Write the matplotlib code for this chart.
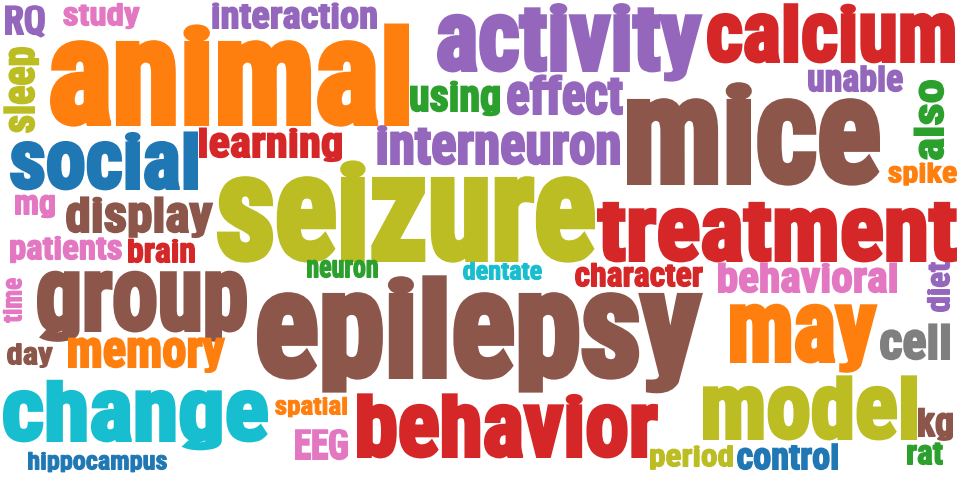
import matplotlib
matplotlib.use("Agg")
import matplotlib.pyplot as plt
import numpy as np
from matplotlib import font_manager
from matplotlib.font_manager import FontProperties
from matplotlib.patheffects import AbstractPathEffect
from matplotlib.path import Path
from matplotlib.textpath import TextPath
from matplotlib.transforms import IdentityTransform

BLUE, ORANGE, GREEN, RED, PURPLE = "#1f77b4", "#ff7f0e", "#2ca02c", "#d62728", "#9467bd"
BROWN, PINK, GRAY, OLIVE, CYAN = "#8c564b", "#e377c2", "#7f7f7f", "#bcbd22", "#17becf"

WORDS = ["RQ", "study", "interaction", "animal", "activity", "calcium", "unable",
         "also", "spike", "mice", "using", "effect", "interneuron", "learning",
         "sleep", "social", "seizure", "treatment", "patients", "brain", "mg",
         "display", "neuron", "dentate", "character", "behavioral", "diet", "time",
         "group", "epilepsy", "may", "cell", "day", "memory", "change", "spatial",
         "EEG", "hippocampus", "behavior", "model", "kg", "period", "control", "rat"]
# x-height of each word in px (the cloud's size scale)
SIZES = [25, 19, 22, 84, 57, 49, 22,
         25, 17, 85, 26, 33, 33, 25,
         26, 48, 84, 53, 20, 20, 20,
         30, 18, 15, 20, 25, 19, 16,
         60, 85, 58, 30, 18, 30, 51, 15,
         26, 15, 53, 53, 24, 18, 22, 20]
COLORS = [PURPLE, PINK, PURPLE, ORANGE, PURPLE, RED, PURPLE,
          GREEN, ORANGE, BROWN, GREEN, PURPLE, PURPLE, RED,
          OLIVE, BLUE, OLIVE, RED, PINK, RED, PINK,
          BROWN, GREEN, CYAN, RED, PINK, PURPLE, PINK,
          BROWN, BROWN, ORANGE, GRAY, BROWN, ORANGE, CYAN, ORANGE,
          PINK, BLUE, RED, OLIVE, BROWN, OLIVE, BLUE, GREEN]

# cloud layout: each word runs from RUN_START to RUN_END along its reading
# direction, with its baseline at BASELINE (pixel-like coords, y down)
RUN_START = [5, 63, 212, 50, 437, 707, 808,
             160, 888, 627, 410, 507, 377, 199,
             133, 10, 217, 597, 10, 128, 15,
             66, 307, 463, 575, 718, 312, 323,
             37, 257, 730, 880, 7, 68, 3, 275,
             295, 28, 357, 703, 918, 650, 737, 907]
RUN_END = [45, 140, 377, 409, 702, 955, 903,
           80, 957, 880, 500, 623, 620, 342,
           47, 198, 595, 957, 122, 195, 55,
           213, 378, 542, 703, 897, 262, 278,
           247, 702, 877, 950, 53, 225, 268, 347,
           348, 167, 658, 917, 953, 733, 838, 943]
BASELINE = [35, 26, 29, 126, 72, 63, 92,
            944, 183, 185, 112, 115, 165, 158,
            35, 190, 262, 262, 260, 263, 215,
            233, 278, 280, 287, 293, 950, 22,
            332, 379, 363, 360, 365, 368, 442, 415,
            460, 470, 458, 440, 437, 467, 470, 465]
ROTATION = [0, 0, 0, 0, 0, 0, 0,
            90, 0, 0, 0, 0, 0, 0,
            90, 0, 0, 0, 0, 0, 0,
            0, 0, 0, 0, 0, 90, 90,
            0, 0, 0, 0, 0, 0, 0, 0,
            0, 0, 0, 0, 0, 0, 0, 0]

ASC = 1.22     # ascender height / x-height of the cloud font
DESC = 0.17    # descender depth / x-height
WEIGHT = 0.07  # extra stroke, as a fraction of x-height


def pick_family():
    installed = {f.name for f in font_manager.fontManager.ttflist}
    for name in ("Liberation Sans Narrow", "Roboto Condensed", "Liberation Sans", "DejaVu Sans"):
        if name in installed:
            return name
    return "DejaVu Sans"


class CloudGlyphs(AbstractPathEffect):
    """Redraw a text outline with Impact-like proportions, fitted to its slot."""

    def __init__(self, ax, metrics, start, end, base, xh, rot):
        super().__init__()
        self.ax = ax
        self.fxh, self.fasc, self.fdesc = metrics
        self.start, self.end, self.base, self.xh, self.rot = start, end, base, xh, rot

    def draw_path(self, renderer, gc, tpath, affine, rgbFace=None):
        verts, codes = tpath.vertices, tpath.codes
        fx, fy = verts[:, 0], verts[:, 1]
        ink = codes != Path.CLOSEPOLY if codes is not None else np.ones(len(verts), bool)
        x0, x1 = fx[ink].min(), fx[ink].max()

        v = np.where(fy < 0, fy / self.fdesc * DESC,
                     np.where(fy <= self.fxh, fy / self.fxh,
                              1 + (fy - self.fxh) / (self.fasc - self.fxh) * (ASC - 1)))

        lw = WEIGHT * self.xh
        xh = self.xh - lw / ASC
        base = self.base - lw / 2
        step = np.sign(self.end - self.start)
        start = self.start + step * lw / 2
        end = self.end - step * lw / 2
        along = start + (fx - x0) / (x1 - x0) * (end - start)
        across = base - v * xh
        if self.rot == 0:
            data = np.column_stack([along, across])
        else:
            data = np.column_stack([across, along])
        disp = self.ax.transData.transform(data)

        t = self.ax.transData
        px = abs(t.transform((1, 0))[0] - t.transform((0, 0))[0])
        gc0 = renderer.new_gc()
        gc0.copy_properties(gc)
        gc0.set_linewidth(lw * px / renderer.points_to_pixels(1.0))
        gc0.set_joinstyle("miter")
        renderer.draw_path(gc0, Path(disp, codes), IdentityTransform(), rgbFace)
        gc0.restore()


fig = plt.figure(figsize=(9.6, 4.8), dpi=100)
ax = fig.add_axes([0, 0, 1, 1])
ax.set_xlim(0, 960)
ax.set_ylim(480, 0)
ax.axis("off")

prop = FontProperties(family=pick_family(), weight="bold")
metrics = (TextPath((0, 0), "x", size=100, prop=prop).get_extents().y1,
           TextPath((0, 0), "l", size=100, prop=prop).get_extents().y1,
           -TextPath((0, 0), "p", size=100, prop=prop).get_extents().y0)

for word, xh, color, s, e, b, rot in zip(WORDS, SIZES, COLORS, RUN_START, RUN_END, BASELINE, ROTATION):
    mid = (s + e) / 2
    off = b - xh * (ASC - DESC) / 2
    x, y = (mid, off) if rot == 0 else (off, mid)
    # size of the text box so it stays inside the word's slot
    natural = TextPath((0, 0), word, size=100, prop=prop).get_extents().width
    em = min(100 * abs(e - s) / natural, (ASC + DESC) * xh / 1.4)
    ax.text(x, y, word, color=color, fontproperties=prop, fontsize=em * 72 / fig.dpi,
            rotation=rot, ha="center", va="center",
            path_effects=[CloudGlyphs(ax, metrics, s, e, b, xh, rot)])

fig.savefig("out.png", dpi=100, facecolor="white")
